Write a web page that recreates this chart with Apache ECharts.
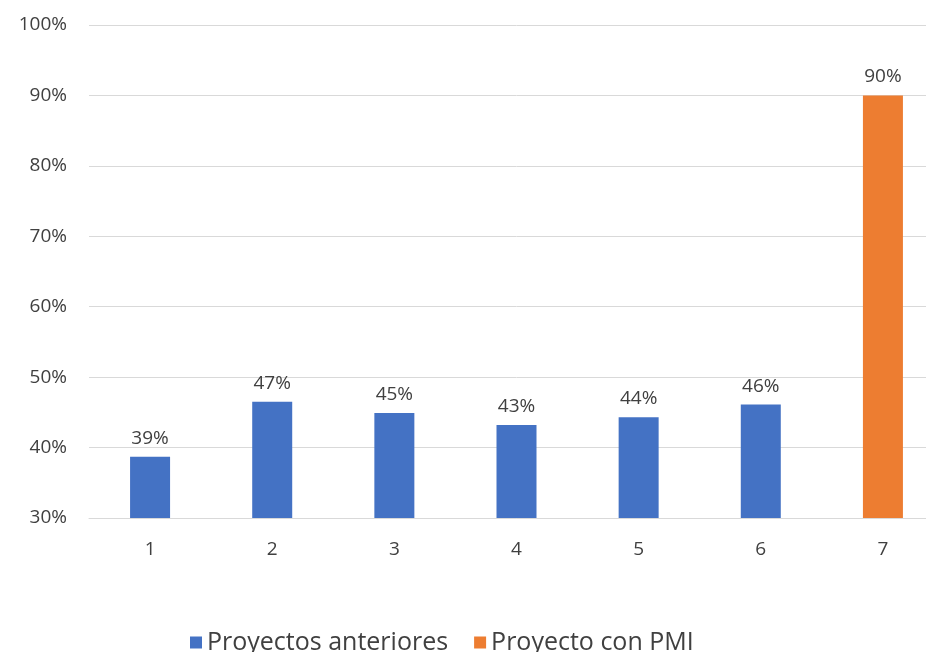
<!DOCTYPE html>
<html>
<head>
<meta charset="utf-8">
<script src="https://cdn.jsdelivr.net/npm/echarts@6/dist/echarts.min.js"></script>
<style>
  html, body { margin: 0; padding: 0; background: #fff; overflow: hidden; }
  /* el area de trazado sigue mas alla del borde derecho, como en la imagen */
  #chart { width: 944px; height: 652px; }
</style>
</head>
<body>
<div id="chart"></div>
<script>
// categorias y valores
const categories = ['1', '2', '3', '4', '5', '6', '7'];
const anteriores = [38.7, 46.5, 44.9, 43.2, 44.3, 46.1, null];
const conPMI = [null, null, null, null, null, null, 90];
const seriesNames = ['Proyectos anteriores', 'Proyecto con PMI'];

const font = 'Open Sans, Liberation Sans, sans-serif';
const chart = echarts.init(document.getElementById('chart'));

const label = {
    show: true,
    position: 'top',
    distance: 9,
    color: '#404040',
    fontSize: 19,
    fontFamily: font,
    formatter: p => Math.round(p.value) + '%'
};

chart.setOption({
    animation: false,
    grid: { left: 89, right: 0, top: 25, bottom: 134 },
    legend: {
        bottom: -3,
        left: 190,
        padding: 0,
        itemWidth: 12,
        itemHeight: 12,
        itemGap: 26,
        icon: 'rect',
        textStyle: { fontSize: 25, color: '#404040', fontFamily: font },
        data: seriesNames
    },
    xAxis: {
        type: 'category',
        data: categories,
        axisLine: { lineStyle: { color: '#d9d9d9' } },
        axisTick: { show: false },
        axisLabel: { color: '#404040', fontSize: 19, margin: 22, fontFamily: font }
    },
    yAxis: {
        type: 'value',
        min: 30,
        max: 100,
        interval: 10,
        axisLine: { show: false },
        axisTick: { show: false },
        splitLine: { lineStyle: { color: '#d9d9d9' } },
        axisLabel: { color: '#404040', fontSize: 19, margin: 22, fontFamily: font, formatter: v => v + '%' }
    },
    series: [
        {
            name: seriesNames[0],
            type: 'bar',
            stack: 'all',
            barWidth: 40,
            data: anteriores,
            itemStyle: { color: '#4472C4' },
            label: label
        },
        {
            name: seriesNames[1],
            type: 'bar',
            stack: 'all',
            barWidth: 40,
            data: conPMI,
            itemStyle: { color: '#ED7D31' },
            label: label
        }
    ]
});
</script>
</body>
</html>
